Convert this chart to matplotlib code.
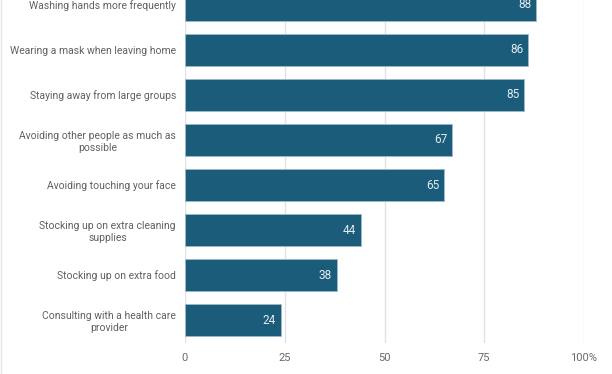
import matplotlib.pyplot as plt

plt.rcParams['font.family'] = ['Roboto', 'DejaVu Sans']

labels = [
    'Washing hands more frequently',
    'Wearing a mask when leaving home',
    'Staying away from large groups',
    'Avoiding other people as much as\npossible',
    'Avoiding touching your face',
    'Stocking up on extra cleaning\nsupplies',
    'Stocking up on extra food',
    'Consulting with a health care\nprovider',
]
values = [88, 86, 85, 67, 65, 44, 38, 24]
ticks = [0, 25, 50, 75, 100]
tick_labels = ['0', '25', '50', '75', '100%']

bar_color = '#1b5c7b'

fig = plt.figure(figsize=(6.12, 3.74), dpi=100)
ax = fig.add_axes([185 / 612, 31 / 374, 399 / 612, 343 / 374])

pos = list(range(len(values)))
ax.barh(pos, values, height=0.7, color=bar_color, edgecolor='#9fb9c8',
        linewidth=0.6, zorder=3)

for p, v in zip(pos, values):
    ax.text(v - 1.2, p, str(v), ha='right', va='center', color='#e3eaef',
            fontsize=8.5, zorder=4)

ax.set_xlim(0, 100)
ax.set_ylim(7.51, -0.11)
ax.set_xticks(ticks)
ax.set_xticklabels(tick_labels, color='#6a6a6a', fontsize=8)
ax.set_yticks(pos)
ax.set_yticklabels(labels, color='#606060', fontsize=7.5,
                   multialignment='center', linespacing=1.3)
ax.tick_params(axis='y', length=0, pad=6.5)
ax.tick_params(axis='x', length=0, pad=7)

ax.grid(axis='x', color='#e2e2e2', linewidth=1, zorder=0)
for s in ax.spines.values():
    s.set_visible(False)

# faint outer border on the left edge
fig.add_artist(plt.Line2D([0.0016, 0.0016], [0, 1], color='#e6e6e6', lw=1,
                          transform=fig.transFigure))

fig.savefig('out.png', dpi=100, facecolor='white')
